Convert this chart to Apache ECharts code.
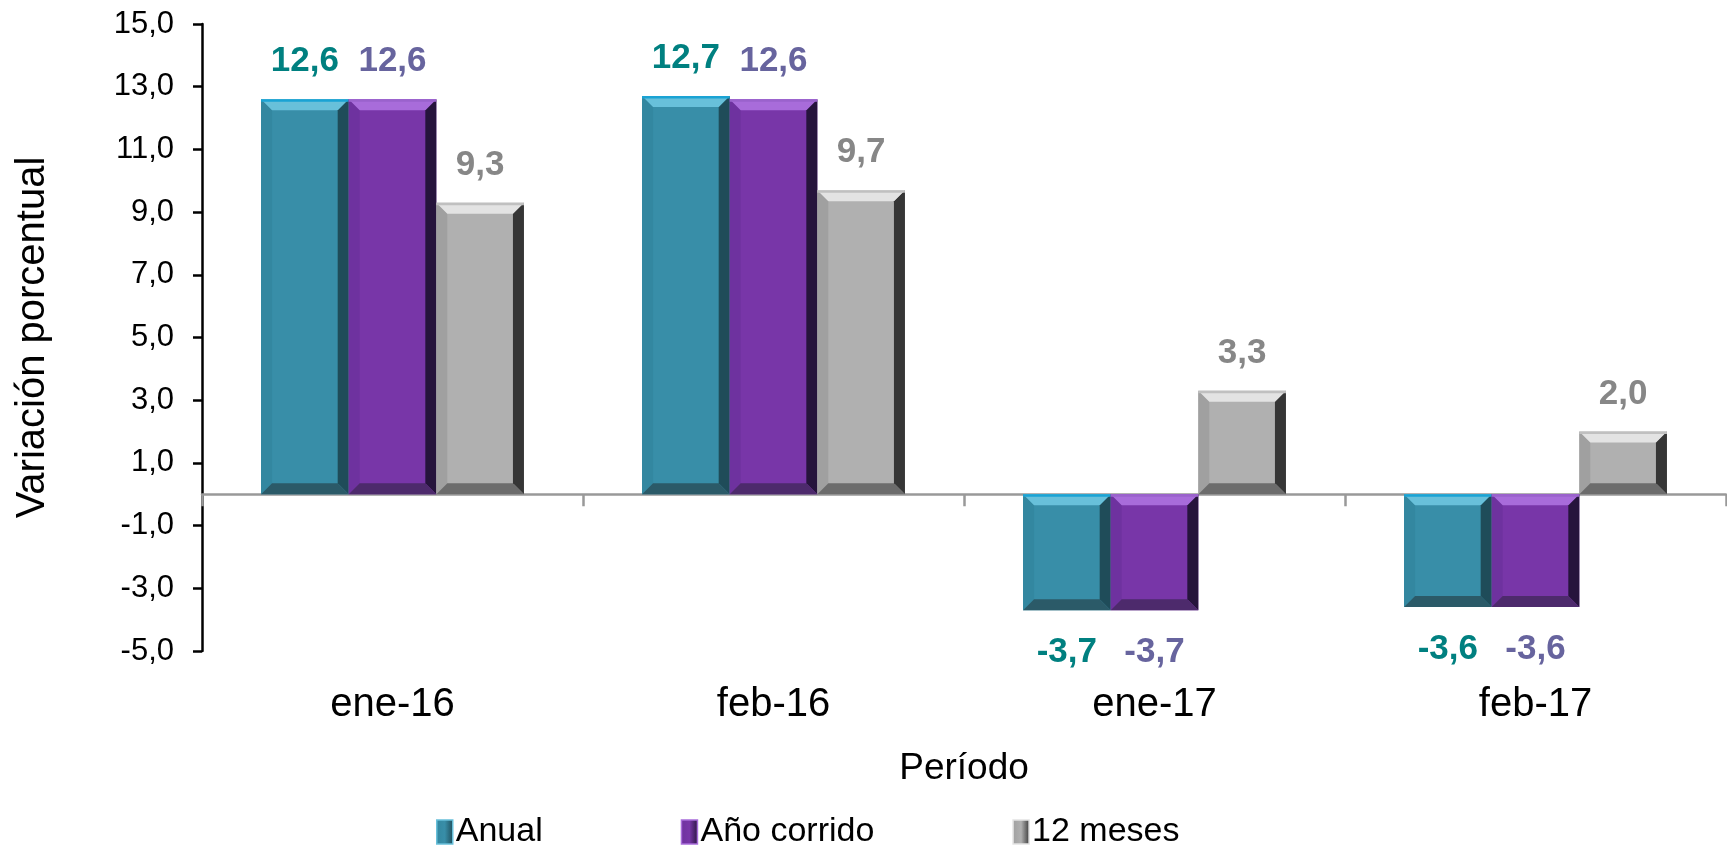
<!DOCTYPE html>
<html><head><meta charset="utf-8">
<script src="https://cdn.jsdelivr.net/npm/echarts@6/dist/echarts.min.js"></script>
<style>html,body{margin:0;padding:0;background:#fff}#c{width:1727px;height:849px}</style>
</head><body><div id="c"></div>
<script>
const categories = ['ene-16', 'feb-16', 'ene-17', 'feb-17'];
const seriesNames = ['Anual', 'Año corrido', '12 meses'];
const anual = [12.6, 12.7, -3.7, -3.6];
const anoCorrido = [12.6, 12.6, -3.7, -3.6];
const doceMeses = [9.3, 9.7, 3.3, 2.0];
const yTicks = { min: -5, max: 15, interval: 2 };

const FONT = 'Liberation Sans, Arial, sans-serif';
const CAT_GAP = 0.31;
const fmt = v => v.toFixed(1).replace('.', ',');
const styles = [
  { face: '#388ea8', top: '#68c0da', left: '#3387a0', right: '#1f4c59', bottom: '#2b5a68', label: '#008080', edge: '#1aa3d4' },
  { face: '#7836a8', top: '#a86cda', left: '#6e329f', right: '#26143c', bottom: '#4d2a6c', label: '#67649e', edge: '#9a62cc' },
  { face: '#b0b0b0', top: '#e3e3e3', left: '#a0a0a0', right: '#363636', bottom: '#6c6c6c', label: '#878787', edge: '#c0c0c0' }
];
const dataSets = [anual, anoCorrido, doceMeses];

const barSeries = dataSets.map((arr, i) => ({
  name: seriesNames[i],
  type: 'bar',
  xAxisIndex: 0,
  barGap: '0%',
  barCategoryGap: (CAT_GAP * 100) + '%',
  z: 2,
  data: arr.map(v => ({ value: v, label: { position: v >= 0 ? 'top' : 'bottom', distance: v >= 0 ? 20 : 25 } })),
  itemStyle: { color: styles[i].face },
  label: {
    show: true, color: styles[i].label,
    fontFamily: FONT, fontWeight: 'bold', fontSize: 35,
    formatter: p => fmt(p.value)
  }
}));

// bevel overlay drawn from the same values through the axes' coordinate system
const bevelSeries = dataSets.map((arr, i) => ({
  name: seriesNames[i],
  type: 'custom',
  xAxisIndex: 0,
  silent: true,
  z: 3,
  data: arr.map((v, k) => [k, v]),
  encode: { x: 0, y: 1 },
  renderItem: (params, api) => {
    const idx = api.value(0), v = api.value(1);
    const p0 = api.coord([idx, 0]);
    const p1 = api.coord([idx, v]);
    const band = api.size([1, 0])[0];
    const w = band * (1 - CAT_GAP) / 3;
    const x = p0[0] - 1.5 * w + i * w;
    const top = Math.min(p0[1], p1[1]);
    const bot = Math.max(p0[1], p1[1]);
    const b = Math.min(11, (bot - top) / 3);
    const s = styles[i];
    const poly = (pts, c) => ({ type: 'polygon', shape: { points: pts }, style: { fill: c } });
    return {
      type: 'group',
      children: [
        poly([[x, top], [x + b, top + b], [x + b, bot - b], [x, bot]], s.left),
        poly([[x + w, top], [x + w - b, top + b], [x + w - b, bot - b], [x + w, bot]], s.right),
        poly([[x, top], [x + w, top], [x + w - b, top + b], [x + b, top + b]], s.top),
        poly([[x, bot], [x + w, bot], [x + w - b, bot - b], [x + b, bot - b]], s.bottom),
        { type: 'rect', shape: { x: x, y: top, width: w, height: 2.5 }, style: { fill: s.edge } }
      ]
    };
  }
}));

const chart = echarts.init(document.getElementById('c'));
chart.setOption({
  animation: false,
  backgroundColor: '#fff',
  grid: { left: 202, top: 24, right: 1, bottom: 198 },
  legend: {
    left: 431, top: 810, itemGap: 138, itemWidth: 16, itemHeight: 24,
    textStyle: { fontFamily: FONT, fontSize: 34, color: '#000', padding: [0, 0, 0, -2] },
    data: seriesNames.map((n, i) => ({
      name: n, icon: 'rect',
      itemStyle: {
        color: new echarts.graphic.LinearGradient(0, 0, 1, 0, [
          { offset: 0, color: styles[i].left }, { offset: 0.5, color: styles[i].face }, { offset: 1, color: styles[i].right }
        ]),
        borderColor: styles[i].top, borderWidth: 1.5
      }
    }))
  },
  xAxis: [
    {
      type: 'category', data: categories, position: 'bottom',
      axisLine: { onZero: true, lineStyle: { color: '#999', width: 2.5 } },
      axisTick: { show: true, length: 12, lineStyle: { color: '#999', width: 2.5 } },
      axisLabel: { show: false }
    },
    {
      type: 'category', data: categories, position: 'bottom',
      axisLine: { show: false }, axisTick: { show: false },
      axisLabel: { show: true, margin: 34, fontSize: 40, color: '#000', fontFamily: FONT },
      name: 'Período', nameLocation: 'middle', nameGap: 99,
      nameTextStyle: { fontSize: 37, color: '#000', fontFamily: FONT }
    }
  ],
  yAxis: {
    type: 'value', min: yTicks.min, max: yTicks.max, interval: yTicks.interval,
    name: 'Variación porcentual', nameLocation: 'middle', nameGap: 149,
    nameTextStyle: { fontSize: 40, color: '#000', fontFamily: FONT },
    axisLine: { show: true, lineStyle: { color: '#000', width: 2.5 } },
    axisTick: { show: true, length: 9, lineStyle: { color: '#000', width: 2.5 } },
    splitLine: { show: false },
    axisLabel: { fontSize: 31, color: '#000', margin: 28, fontFamily: FONT, formatter: v => fmt(v) }
  },
  series: barSeries.concat(bevelSeries)
});
</script></body></html>
